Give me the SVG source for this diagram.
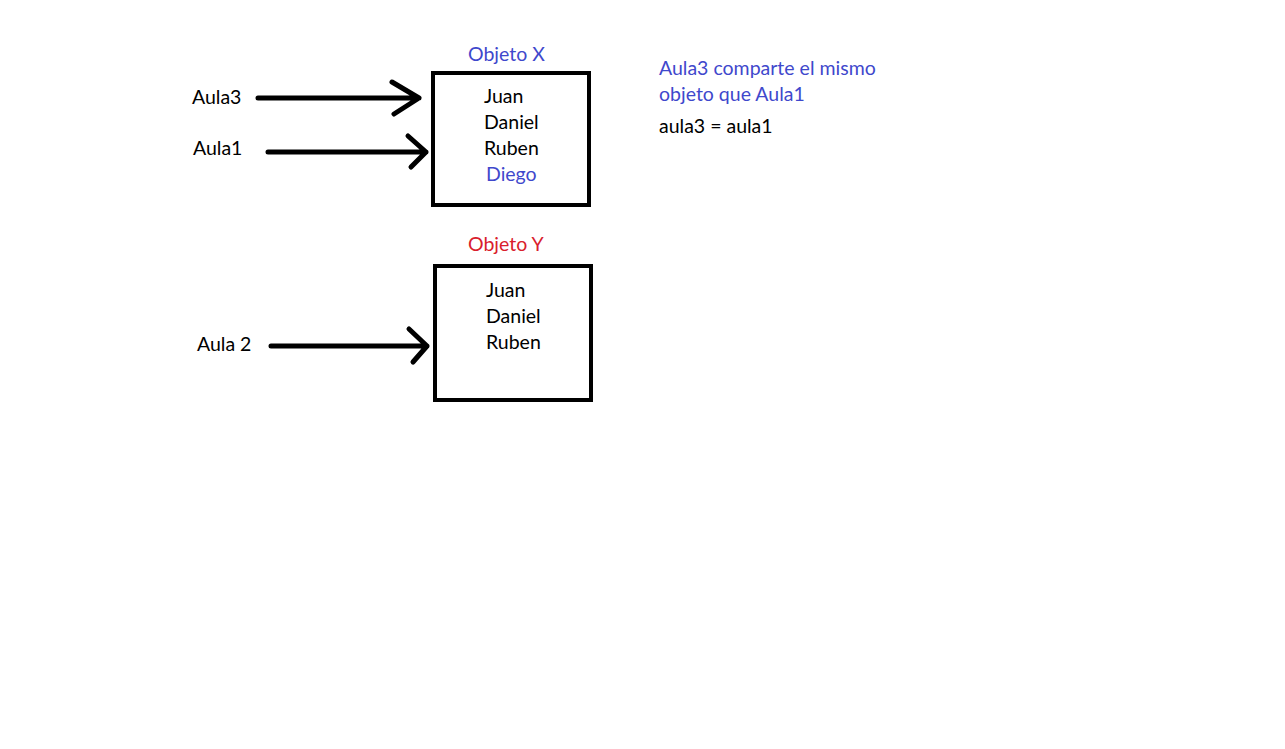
<svg xmlns="http://www.w3.org/2000/svg" width="1285" height="749" viewBox="0 0 1285 749">
<style>
text{font-family:Lato,"Open Sans","Noto Sans",sans-serif;font-size:19.5px;fill:#000}
.b{fill:#3F48CC}
.r{fill:#D9202C}
.box{fill:none;stroke:#000;stroke-width:4}
.ar{fill:none;stroke:#000;stroke-width:5;stroke-linecap:round;stroke-linejoin:round}
</style>
<rect width="1285" height="749" fill="#fff"/>
<g id="objetoX">
<text class="b" x="468" y="61">Objeto X</text>
<rect class="box" x="433" y="73" width="156" height="132"/>
<text x="484" y="103">Juan</text>
<text x="484" y="129">Daniel</text>
<text x="484" y="155">Ruben</text>
<text class="b" x="486" y="181">Diego</text>
</g>
<g id="objetoY">
<text class="r" x="468" y="251">Objeto Y</text>
<rect class="box" x="435" y="266" width="156" height="134"/>
<text x="486" y="297">Juan</text>
<text x="486" y="323">Daniel</text>
<text x="486" y="349">Ruben</text>
</g>
<g id="aula3"><text x="192" y="104">Aula3</text></g>
<g id="aula1"><text x="193" y="155">Aula1</text></g>
<g id="aula2"><text x="197" y="351">Aula 2</text></g>
<g id="nota">
<text class="b" x="659" y="75">Aula3 comparte el mismo</text>
<text class="b" x="659" y="101">objeto que Aula1</text>
<text x="659" y="133">aula3 = aula1</text>
</g>
<g id="connectors">
<path class="ar" d="M258 98 L419 98 M392 82 L419 98 L394 114"/>
<path class="ar" d="M268 152 L426 152 M408 136 L426 152 L411 167"/>
<path class="ar" d="M271 346 L427 346 M409 329 L427 346 L413 362"/>
</g>
</svg>
